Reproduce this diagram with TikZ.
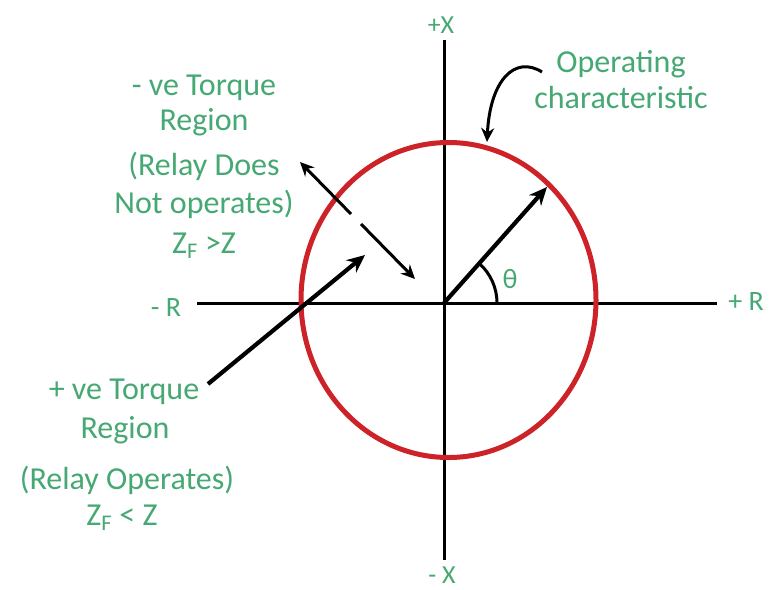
\documentclass[tikz,border=0pt]{standalone}
\usepackage{fontspec}
\setmainfont{Carlito}
\usetikzlibrary{arrows.meta,shapes.geometric}
\definecolor{gtxt}{RGB}{70,168,115}
\definecolor{redc}{RGB}{205,35,40}
\begin{document}
\begin{tikzpicture}[x=1pt,y=1pt,
  lbl/.style={text=gtxt, font=\fontsize{32}{38}\selectfont, inner sep=0pt, anchor=base},
  rlbl/.style={lbl, font=\fontsize{28}{34}\selectfont},
  xlbl/.style={lbl, font=\fontsize{26}{30}\selectfont},
  axisline/.style={line width=3pt, black},
  vecarrow/.style={line width=4.2pt, black, -{Stealth[length=18pt,width=16pt]}},
  dasharrow/.style={line width=3pt, black, -{Stealth[length=14pt,width=13pt]}},
  curvearrow/.style={line width=3pt, black, -{Stealth[length=14pt,width=13pt]}},
]
\useasboundingbox (0,0) rectangle (773,-589);
\fill[white] (0,0) rectangle (773,-589);

% axes
\coordinate (O) at (444,-303);
\coordinate (xt) at (444,-40);
\coordinate (xb) at (444,-560);
\coordinate (rl) at (197,-303);
\coordinate (rr) at (717,-303);
\draw[axisline] (xt) -- (xb);
\draw[axisline] (rl) -- (rr);

% operating characteristic
\node[draw=redc, line width=5pt, ellipse, inner sep=0pt,
      minimum width=295pt, minimum height=315pt] (circ) at (448.5,-300) {};

% axis labels
\node[xlbl] (px) at (441,-33) {+X};
\node[xlbl] (mx) at (442,-583) {- X};
\node[rlbl] (mr) at (166,-316) {- R};
\node[rlbl] (pr) at (746,-310) {+ R};

% theta
\coordinate (vtip) at (547,-187);
\draw[vecarrow] (O) -- (vtip);
\draw[line width=3pt] (O) ++(53pt,0) arc[start angle=0, end angle=48, radius=53pt];
\node[text=gtxt, font=\fontsize{28}{34}\selectfont, inner sep=0pt] (th) at (510,-279) {θ};

% operating characteristic label
\node[lbl] (oc1) at (621,-72) {Operating};
\node[lbl] (oc2) at (621,-108) {characteristic};
\coordinate (cstart) at (542,-72);
\coordinate (ctip) at (487,-142);
\draw[curvearrow] (cstart) .. controls (515,-55) and (490,-80) .. (ctip);

% -ve torque region text
\node[lbl] (n1) at (204,-95) {- ve Torque};
\node[lbl] (n2) at (204,-130) {Region};
\node[lbl] (n3) at (204,-175) {(Relay Does};
\node[lbl] (n4) at (204,-213) {Not operates)};
\node[lbl] (n5) at (204,-253) {Z\textsubscript{F} >Z};

% dashed double arrow
\coordinate (da) at (300,-162);
\coordinate (g1) at (351,-214);
\coordinate (g2) at (361,-224);
\coordinate (db) at (415,-279);
\draw[dasharrow] (g1) -- (da);
\draw[dasharrow] (g2) -- (db);

% +ve torque region text
\node[lbl] (p1) at (124,-399) {+ ve Torque};
\node[lbl] (p2) at (125,-438) {Region};
\node[lbl] (p3) at (127,-489) {(Relay Operates)};
\node[lbl] (p4) at (122,-525) {Z\textsubscript{F} < Z};

% +ve torque arrow
\coordinate (ps) at (208,-384);
\coordinate (pt) at (365,-255);
\draw[vecarrow] (ps) -- (pt);
\end{tikzpicture}
\end{document}
